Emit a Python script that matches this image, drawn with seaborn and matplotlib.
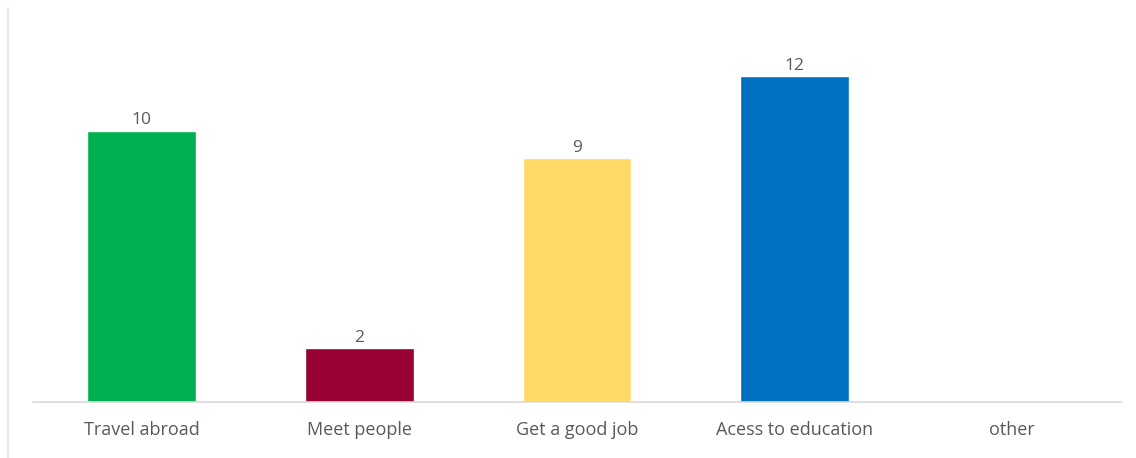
import matplotlib
matplotlib.use("Agg")
import matplotlib.pyplot as plt
import seaborn as sns
import pandas as pd
from matplotlib.lines import Line2D

categories = ["Travel abroad", "Meet people", "Get a good job", "Acess to education", "other"]
values = [10, 2, 9, 12, 0]
colors = ["#00B050", "#990033", "#FFD966", "#0070C0", "#A5A5A5"]

sns.set_theme(style="white")
plt.rcParams["font.family"] = ["Open Sans", "DejaVu Sans"]

df = pd.DataFrame({"cat": categories, "val": values})

fig = plt.figure(figsize=(11.36, 4.58), dpi=100)
ax = fig.add_axes([33/1136, 1 - 402/458, (1121-33)/1136, (402-22)/458])
sns.barplot(data=df, x="cat", y="val", hue="cat", palette=colors, width=0.5,
            legend=False, ax=ax, saturation=1)
ax.set_ylim(0, 14)
ax.set_xlim(-0.5, len(categories) - 0.5)
ax.set_xlabel("")
ax.set_ylabel("")
ax.set_yticks([])
for s in ["top", "right", "left"]:
    ax.spines[s].set_visible(False)
ax.spines["bottom"].set_color("#D9D9D9")
ax.spines["bottom"].set_linewidth(1.2)
ax.tick_params(axis="x", length=0, pad=14, labelsize=13, labelcolor="#595959")

for i, v in enumerate(values):
    if v > 0:
        ax.text(i, v + 0.08, str(v), ha="center", va="bottom", fontsize=12.5, color="#595959")

fig.add_artist(Line2D([8/1136, 8/1136], [0, 1 - 8/458], transform=fig.transFigure,
                      color="#E3E3E3", linewidth=1.2))

fig.savefig("out.png", dpi=100, facecolor="white")
